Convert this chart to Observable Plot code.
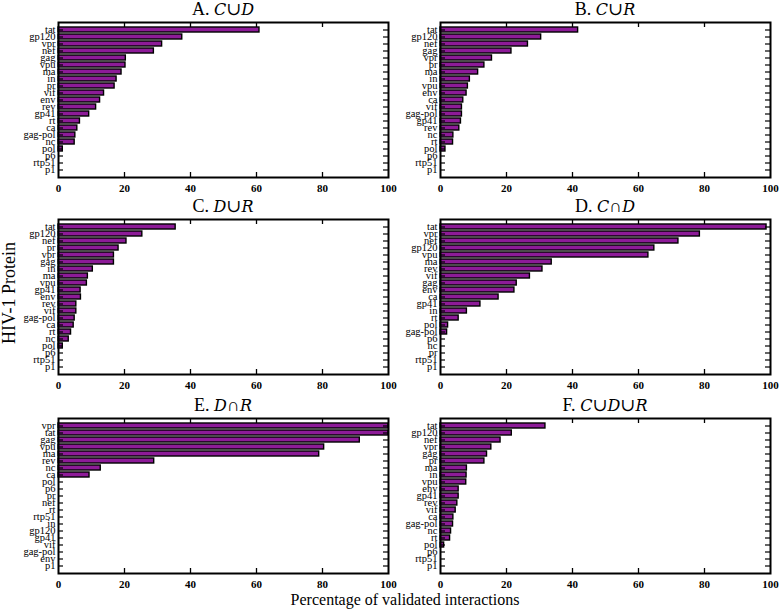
<!DOCTYPE html>
<html>
<head>
<meta charset="utf-8">
<script src="https://cdn.jsdelivr.net/npm/d3@7"></script>
<script src="https://cdn.jsdelivr.net/npm/@observablehq/plot@0.6"></script>
<style>
  body { margin: 0; background: white; }
  #wrap { position: relative; width: 779px; height: 610px; font-family: "Liberation Serif", "DejaVu Serif", serif; color: #000; }
  .ttl { position: absolute; width: 330px; text-align: center; font-size: 18px; line-height: 1; }
  .ttl i { font-family: "DejaVu Serif", serif; font-size: 16px; }
  .pn { position: absolute; }
  .pn svg text { font-family: "Liberation Serif", serif; }
</style>
</head>
<body>
<div id="wrap"></div>
<script>
// Panel A: C ∪ D
const catsA = ["tat","gp120","vpr","nef","gag","vpu","ma","in","pr","vif","env","rev","gp41","rt","ca","gag-pol","nc","pol","p6","rtp51","p1"];
const valsA = [60.9,37.5,31.4,28.9,20.4,20.3,19.1,17.6,17.0,13.8,12.6,11.4,9.3,6.5,5.7,5.1,4.9,1.3,0,0,0];
// Panel B: C ∪ R
const catsB = ["tat","gp120","nef","gag","vpr","pr","ma","in","vpu","env","ca","vif","gag-pol","gp41","rev","nc","rt","pol","p6","rtp51","p1"];
const valsB = [41.7,30.5,26.5,21.5,15.6,13.3,11.4,8.9,8.3,7.9,6.9,6.5,6.5,6.2,5.7,3.9,3.8,1.5,0,0,0];
// Panel C: D ∪ R
const catsC = ["tat","gp120","nef","pr","vpr","gag","in","ma","vpu","gp41","env","rev","vif","gag-pol","ca","rt","nc","pol","p6","rtp51","p1"];
const valsC = [35.5,25.4,20.6,18.2,16.8,16.8,10.4,8.9,8.6,6.7,6.8,5.4,5.4,4.9,4.6,3.8,3.1,1.3,0,0,0];
// Panel D: C ∩ D
const catsD = ["tat","vpr","nef","gp120","vpu","ma","rev","vif","gag","env","ca","gp41","in","rt","pol","gag-pol","p6","nc","pr","rtp51","p1"];
const valsD = [98.8,78.6,72.1,64.8,63.0,33.7,30.9,27.1,23.1,22.4,17.6,12.1,8.0,5.5,2.3,2.0,0,0,0,0,0];
// Panel E: D ∩ R
const catsE = ["vpr","tat","gag","vpu","ma","rev","nc","ca","pol","p6","pr","nef","rt","rtp51","in","gp120","gp41","vif","gag-pol","env","p1"];
const valsE = [100,100,91.3,80.5,79.0,29.0,12.8,9.4,0,0,0,0,0,0,0,0,0,0,0,0,0];
// Panel F: C ∪ D ∪ R
const catsF = ["tat","gp120","nef","vpr","gag","pr","ma","in","vpu","env","gp41","rev","vif","ca","gag-pol","nc","rt","pol","p6","rtp51","p1"];
const valsF = [31.8,21.6,18.2,15.4,14.1,13.3,8.0,7.9,7.8,5.5,5.5,5.1,4.6,3.9,3.8,3.2,2.9,1.1,0,0,0];

const xTicks = [0,20,40,60,80,100];
const innerTicks = [20,40,60,80];

const panels = [
  {label: "A. ", sets: ["C","∪","D"], cats: catsA, vals: valsA, left: 0, top: 0},
  {label: "B. ", sets: ["C","∪","R"], cats: catsB, vals: valsB, left: 382, top: 0},
  {label: "C. ", sets: ["D","∪","R"], cats: catsC, vals: valsC, left: 0, top: 197},
  {label: "D. ", sets: ["C","∩","D"], cats: catsD, vals: valsD, left: 382, top: 197},
  {label: "E. ", sets: ["D","∩","R"], cats: catsE, vals: valsE, left: 0, top: 396},
  {label: "F. ", sets: ["C","∪","D","∪","R"], cats: catsF, vals: valsF, left: 382, top: 396}
];

const W = 390, H = 197, mL = 58, mR = 2, mT = 22, mB = 20;
const fw = W - mL - mR, fh = H - mT - mB;
const wrap = document.getElementById("wrap");
const serif = "Liberation Serif";

for (const p of panels) {
  const data = p.cats.map((c, i) => ({c, v: p.vals[i]}));
  const chart = Plot.plot({
    width: W, height: H,
    marginLeft: mL, marginRight: mR, marginTop: mT, marginBottom: mB,
    style: {background: "transparent", overflow: "visible", fontFamily: serif, fontSize: "11px", color: "#000"},
    x: {domain: [0, 100]},
    y: {domain: p.cats, paddingInner: 0.22, paddingOuter: 0.1},
    marks: [
      Plot.barX(data.filter(d => d.v > 0), {x: "v", y: "c", fill: "#8d1b98", stroke: "#000", strokeWidth: 1.4}),
      Plot.tickX(innerTicks, {x: d => d, insetTop: fh - 5, stroke: "#000", strokeWidth: 1.3}),
      Plot.tickX(innerTicks, {x: d => d, insetBottom: fh - 5, stroke: "#000", strokeWidth: 1.3}),
      Plot.tickY(p.cats, {y: d => d, insetLeft: fw - 5, stroke: "#000", strokeWidth: 1.2}),
      Plot.tickY(p.cats, {y: d => d, insetRight: fw - 5, stroke: "#000", strokeWidth: 1.2}),
      Plot.axisX({ticks: xTicks, tickSize: 0, tickPadding: 7, label: null, fontWeight: "bold", fontSize: 11, fontFamily: serif}),
      Plot.axisY({tickSize: 0, tickPadding: 3, label: null, fontSize: 10.5, fontFamily: serif}),
      Plot.frame({stroke: "#000", strokeWidth: 2})
    ]
  });
  const d = document.createElement("div");
  d.className = "pn";
  d.style.left = p.left + "px";
  d.style.top = p.top + "px";
  d.appendChild(chart);
  wrap.appendChild(d);

  const t = document.createElement("div");
  t.className = "ttl";
  t.style.left = (p.left + mL) + "px";
  t.style.top = p.top + "px";
  t.appendChild(document.createTextNode(p.label));
  for (const s of p.sets) {
    if (s === "∪" || s === "∩") t.appendChild(document.createTextNode(s));
    else { const it = document.createElement("i"); it.textContent = s; t.appendChild(it); }
  }
  wrap.appendChild(t);
}

const yl = document.createElement("div");
yl.textContent = "HIV-1 Protein";
Object.assign(yl.style, {position: "absolute", left: "9px", top: "293px", fontSize: "18px", lineHeight: "1", whiteSpace: "nowrap", transform: "translate(-50%, -50%) rotate(-90deg)"});
wrap.appendChild(yl);

const xl = document.createElement("div");
xl.textContent = "Percentage of validated interactions";
Object.assign(xl.style, {position: "absolute", left: "205px", width: "400px", textAlign: "center", top: "592px", fontSize: "16px", lineHeight: "1"});
wrap.appendChild(xl);
</script>
</body>
</html>
